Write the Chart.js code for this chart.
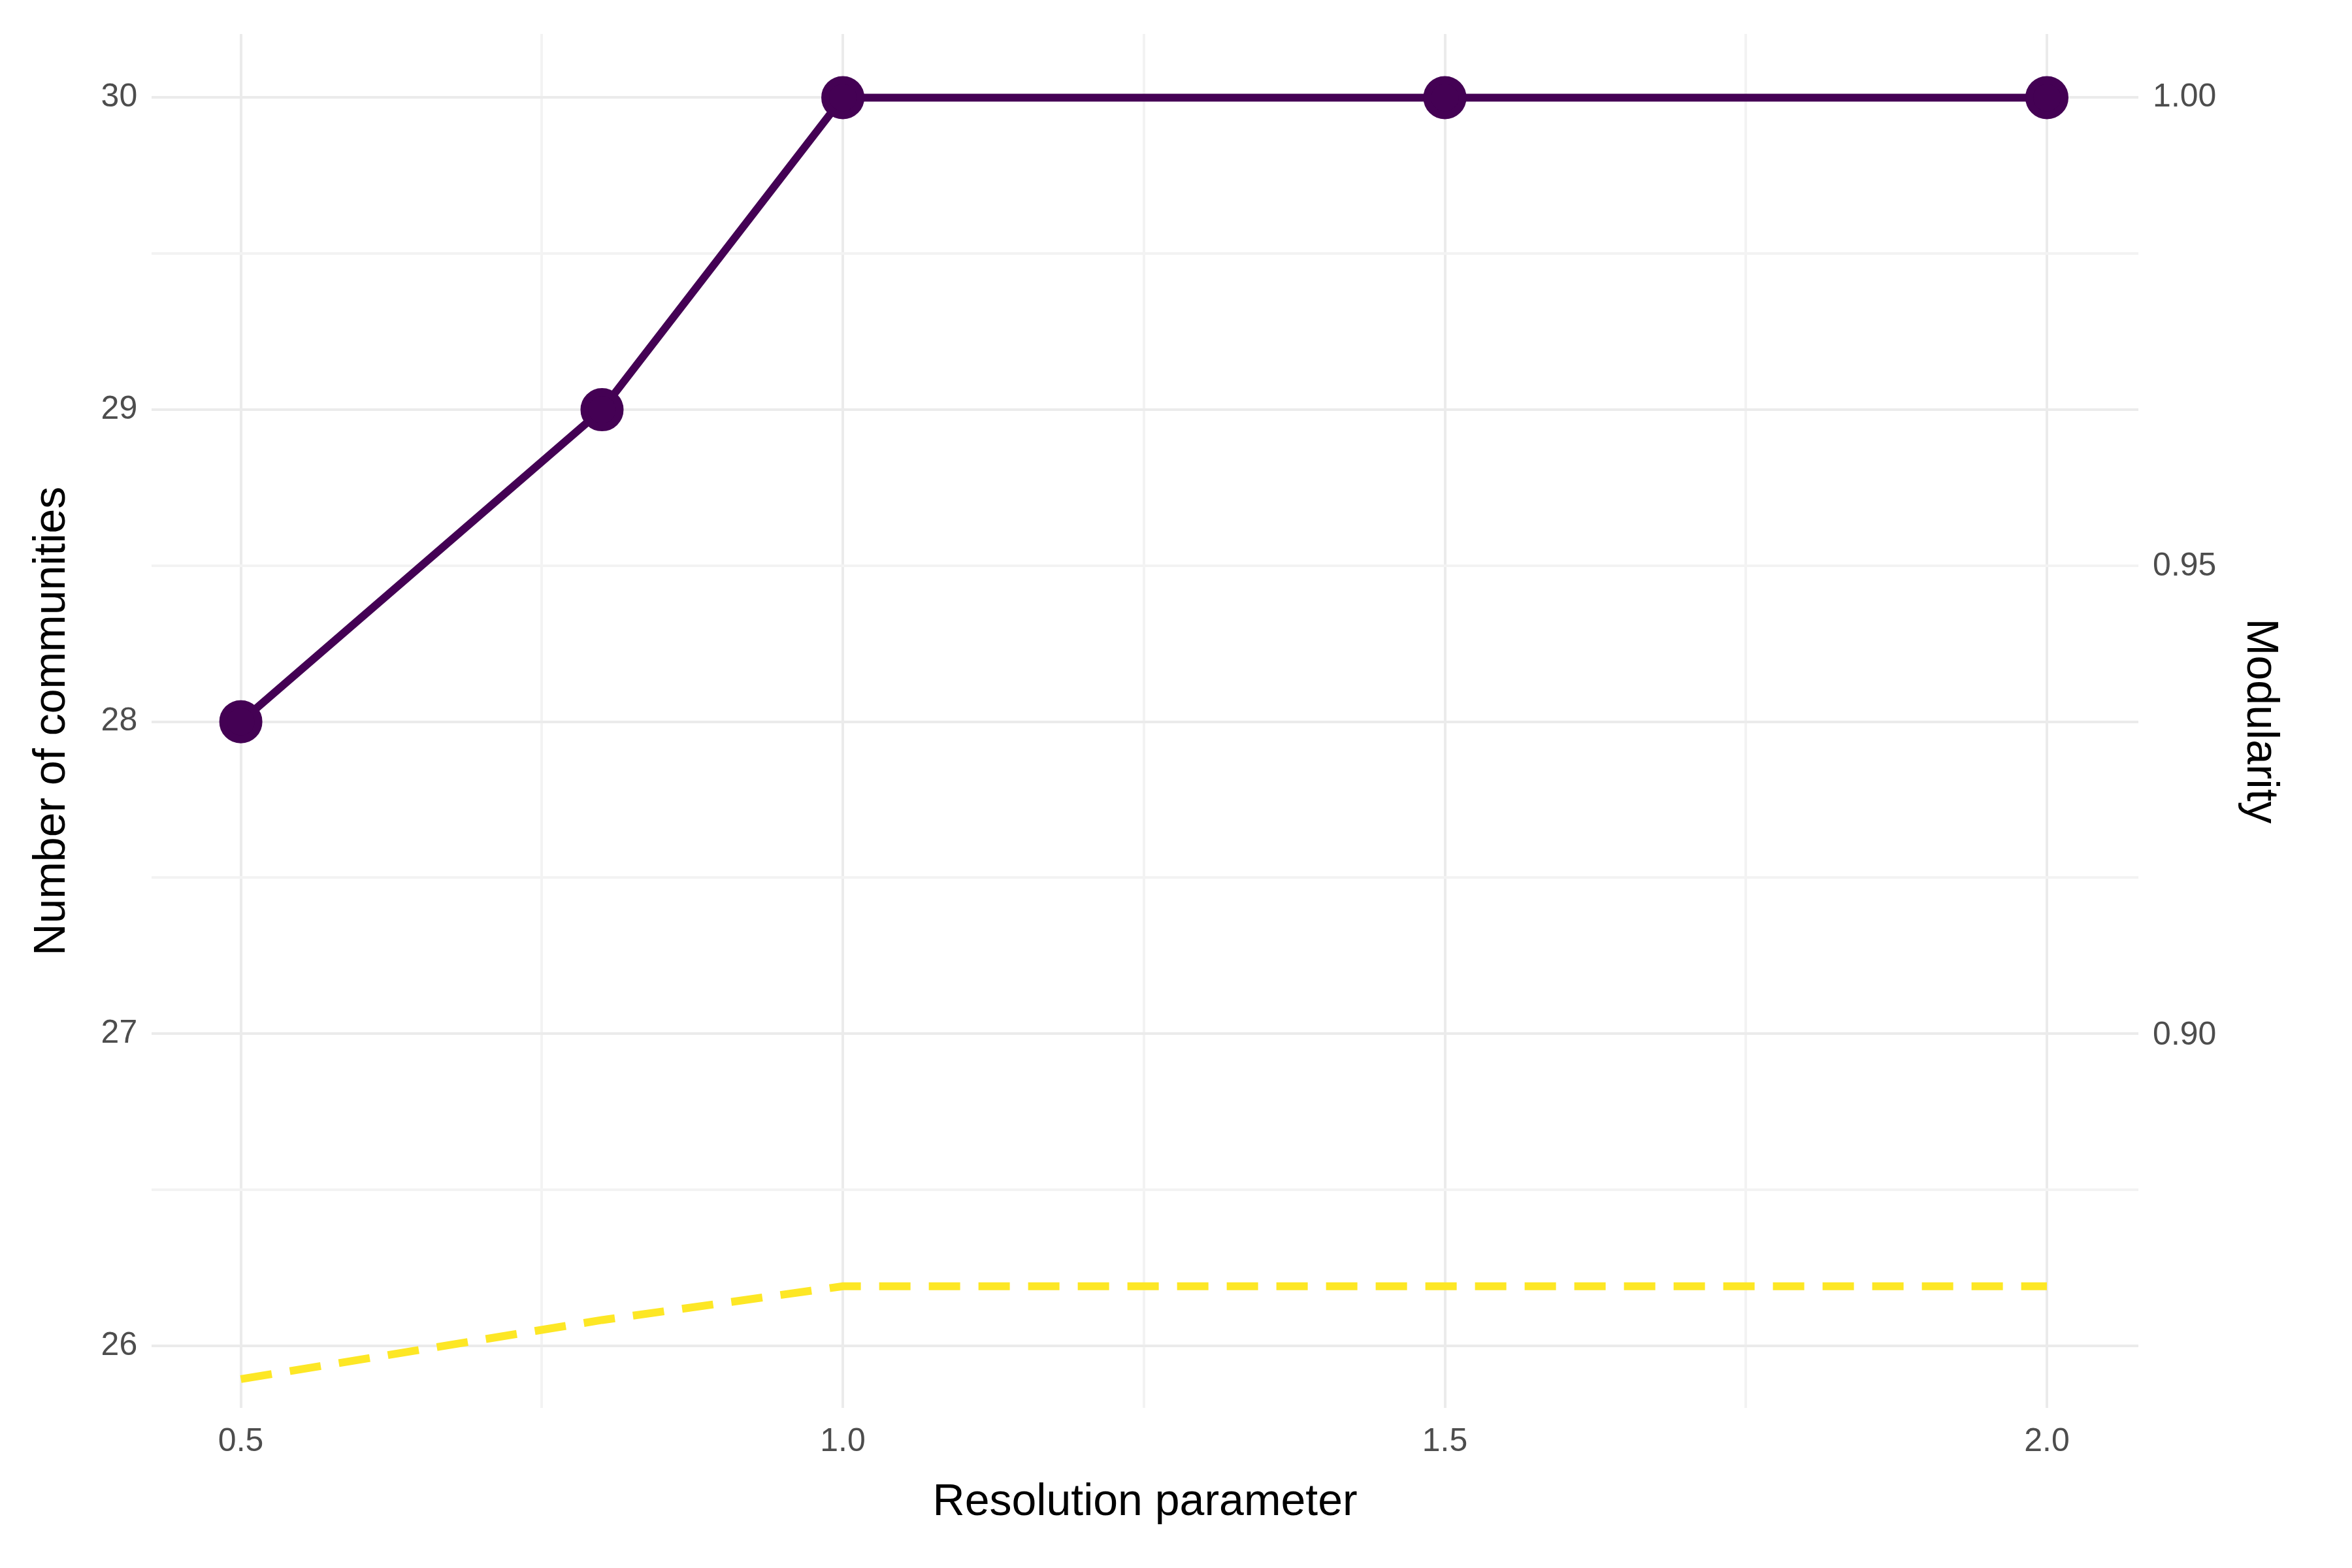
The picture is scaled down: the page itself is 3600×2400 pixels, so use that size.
<!DOCTYPE html>
<html>
<head>
<meta charset="utf-8">
<script src="https://cdn.jsdelivr.net/npm/chart.js@4"></script>
<style>
  html, body { margin: 0; padding: 0; background: #fff; }
</style>
</head>
<body>
<canvas id="chart" width="3600" height="2400"></canvas>
<script>
const resolution = [0.5, 0.8, 1.0, 1.5, 2.0];
const communities = [28, 29, 30, 30, 30];
const modularity = [0.8634, 0.8697, 0.8733, 0.8733, 0.8733];
const xTicks = [0.5, 0.75, 1.0, 1.25, 1.5, 1.75, 2.0];
const leftTicks = [26, 26.5, 27, 27.5, 28, 28.5, 29, 29.5, 30];
const rightTicks = [0.90, 0.95, 1.00];

const gridMajor = '#EBEBEB';
const gridMinor = '#F3F3F3';
const font = { family: 'Liberation Sans, Arial, sans-serif' };

function setTicks(list) {
    return function (scale) {
        scale.ticks = list.map(v => ({ value: v }));
    };
}

new Chart(document.getElementById('chart').getContext('2d'), {
    type: 'line',
    data: {
        datasets: [{
            label: 'Number of communities',
            data: resolution.map((x, i) => ({ x: x, y: communities[i] })),
            borderColor: '#440154',
            backgroundColor: '#440154',
            borderWidth: 12,
            pointRadius: 27,
            pointHoverRadius: 27,
            yAxisID: 'y'
        }, {
            label: 'Modularity',
            data: resolution.map((x, i) => ({ x: x, y: modularity[i] })),
            borderColor: '#FDE725',
            borderWidth: 12,
            borderDash: [48, 28],
            pointRadius: 0,
            yAxisID: 'y2'
        }]
    },
    options: {
        responsive: false,
        devicePixelRatio: 1,
        animation: false,
        layout: { padding: { top: 45, right: 60, bottom: 55, left: 35 } },
        plugins: { legend: { display: false }, tooltip: { enabled: false } },
        scales: {
            x: {
                type: 'linear',
                min: 0.426,
                max: 2.076,
                afterBuildTicks: setTicks(xTicks),
                grid: {
                    color: ctx => (ctx.tick && Math.abs(ctx.tick.value * 2 - Math.round(ctx.tick.value * 2)) < 1e-6) ? gridMajor : gridMinor,
                    lineWidth: 4,
                    drawTicks: false
                },
                border: { display: false },
                ticks: {
                    font: { ...font, size: 50 },
                    color: '#4D4D4D',
                    padding: 22,
                    autoSkip: false,
                    maxRotation: 0,
                    callback: v => (Math.abs(v * 2 - Math.round(v * 2)) < 1e-6) ? v.toFixed(1) : ''
                },
                title: {
                    display: true,
                    text: 'Resolution parameter',
                    font: { ...font, size: 68 },
                    color: '#000',
                    padding: { top: 0 }
                }
            },
            y: {
                position: 'left',
                min: 25.80,
                max: 30.204,
                afterBuildTicks: setTicks(leftTicks),
                grid: {
                    color: ctx => (ctx.tick && Number.isInteger(ctx.tick.value)) ? gridMajor : gridMinor,
                    lineWidth: 4,
                    drawTicks: false
                },
                border: { display: false },
                ticks: {
                    font: { ...font, size: 50 },
                    color: '#4D4D4D',
                    padding: 22,
                    autoSkip: false,
                    callback: v => Number.isInteger(v) ? String(v) : ''
                },
                title: {
                    display: true,
                    text: 'Number of communities',
                    font: { ...font, size: 68 },
                    color: '#000',
                    padding: { bottom: 12 }
                }
            },
            y2: {
                position: 'right',
                min: 0.8603,
                max: 1.0068,
                afterBuildTicks: setTicks(rightTicks),
                grid: { display: false, drawTicks: false },
                border: { display: false },
                ticks: {
                    font: { ...font, size: 50 },
                    color: '#4D4D4D',
                    padding: 22,
                    autoSkip: false,
                    callback: v => v.toFixed(2)
                },
                title: {
                    display: true,
                    text: 'Modularity',
                    font: { ...font, size: 68 },
                    color: '#000',
                    padding: { top: 40 }
                }
            }
        }
    }
});
</script>
</body>
</html>
